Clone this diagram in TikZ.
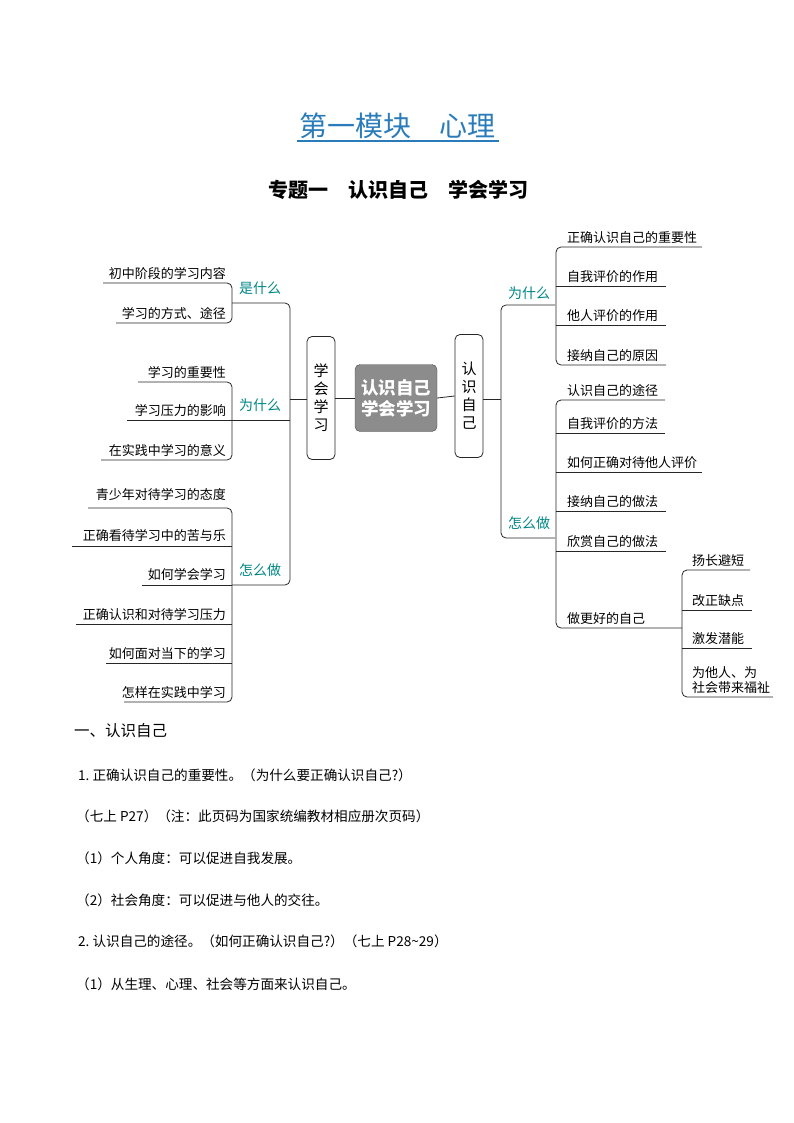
\documentclass[tikz,border=0pt]{standalone}
\usepackage{fontspec}
\setmainfont{Noto Sans CJK SC}
\begin{document}
\begin{tikzpicture}[x=1pt,y=-1pt,
  ln/.style={draw=black!85,line width=0.8pt,rounded corners=5pt},
  lf/.style={font=\fontsize{13}{15}\selectfont,inner sep=1pt},
  lfl/.style={lf,anchor=south east},
  lfr/.style={lf,anchor=south west},
  cat/.style={font=\fontsize{14}{16}\selectfont,text=teal!70!cyan!80!black,inner sep=1pt},
  vbox/.style={draw=black!85,line width=0.8pt,rounded corners=5pt,minimum width=28pt,font=\fontsize{15}{18}\selectfont,align=center},
  body/.style={anchor=west,font=\fontsize{13.6}{16}\selectfont,inner sep=0pt}]
\useasboundingbox (0,0) rectangle (794,1123);
% titles
\node (t1) at (397,126) {\fontsize{28}{32}\selectfont\color{cyan!65!blue!85!black}第一模块\quad 心理};
\draw[cyan!65!blue!85!black,line width=1.3pt] (297,141) -- (499,141);
\node (t2) at (398,190) {\fontsize{20}{23}\selectfont\bfseries 专题一\quad 认识自己\quad 学会学习};
% center boxes
\node[draw=black!70,fill=black!45,rounded corners=5pt,minimum width=82pt,minimum height=67pt,align=center,text=white,font=\fontsize{17.5}{21}\selectfont\bfseries] (c) at (396,398) {认识自己\\学会学习};
\node[vbox,minimum height=123pt] (xx) at (321,398) {学\\会\\学\\习};
\node[vbox,minimum height=123pt] (rs) at (469,396) {认\\识\\自\\己};
\draw[ln] (xx.east) -- (c.west);
\draw[ln] (c.east) -- (rs.west);
% ===== right side
\coordinate (rm) at (501,399);
\draw[ln] (rs.east |- rm) -- (rm);
\draw[ln] (555,305) -- (501,305) -- (501,538) -- (555,538);
\node[cat] (rw) at (529,293) {为什么};
\node[cat] (rz) at (529,523) {怎么做};
% right 为什么 leaves
\draw[ln] (702,247) -- (556,247) -- (556,365) -- (666,365);
\draw[ln] (556,286) -- (666,286);
\draw[ln] (556,325) -- (666,325);
\node[lfr] (r1) at (566,245) {正确认识自己的重要性};
\node[lfr] (r2) at (566,284) {自我评价的作用};
\node[lfr] (r3) at (566,323) {他人评价的作用};
\node[lfr] (r4) at (566,363) {接纳自己的原因};
% right 怎么做 leaves
\draw[ln] (665,400) -- (556,400) -- (556,628) -- (682,628);
\draw[ln] (556,433) -- (665,433);
\draw[ln] (556,472) -- (702,472);
\draw[ln] (556,511) -- (666,511);
\draw[ln] (556,551) -- (666,551);
\node[lfr] (r5) at (566,398) {认识自己的途径};
\node[lfr] (r6) at (566,431) {自我评价的方法};
\node[lfr] (r7) at (566,470) {如何正确对待他人评价};
\node[lfr] (r8) at (566,509) {接纳自己的做法};
\node[lfr] (r9) at (566,549) {欣赏自己的做法};
\node[lfr] (r10) at (566,626) {做更好的自己};
% sub group
\draw[ln] (750,570) -- (682,570) -- (682,697) -- (773,697);
\draw[ln] (682,610) -- (752,610);
\draw[ln] (682,648) -- (752,648);
\node[lfr] (s1) at (691,568) {扬长避短};
\node[lfr] (s2) at (691,608) {改正缺点};
\node[lfr] (s3) at (691,646) {激发潜能};
\node[lfr,align=left] (s4) at (691,695) {为他人、为\\社会带来福祉};
% ===== left side
\coordinate (lm) at (290,399);
\draw[ln] (xx.west |- lm) -- (lm);
\draw[ln] (232,303) -- (290,303) -- (290,585) -- (232,585);
\draw[ln] (232,420) -- (290,420);
\node[cat] (lw1) at (260,288) {是什么};
\node[cat] (lw2) at (260,405) {为什么};
\node[cat] (lw3) at (260,570) {怎么做};
% 是什么
\draw[ln] (103,283) -- (232,283) -- (232,323) -- (116,323);
\node[lfl] (l1) at (227,281) {初中阶段的学习内容};
\node[lfl] (l2) at (227,321) {学习的方式、途径};
% 为什么
\draw[ln] (138,382) -- (232,382) -- (232,460) -- (101,460);
\draw[ln] (127,420) -- (232,420);
\node[lfl] (l3) at (227,380) {学习的重要性};
\node[lfl] (l4) at (227,418) {学习压力的影响};
\node[lfl] (l5) at (227,458) {在实践中学习的意义};
% 怎么做
\draw[ln] (88,508) -- (232,508) -- (232,702) -- (124,702);
\draw[ln] (72,546) -- (232,546);
\draw[ln] (142,585) -- (232,585);
\draw[ln] (76,624) -- (232,624);
\draw[ln] (106,663) -- (232,663);
\node[lfl] (l6) at (227,502) {青少年对待学习的态度};
\node[lfl] (l7) at (227,543) {正确看待学习中的苦与乐};
\node[lfl] (l8) at (227,582) {如何学会学习};
\node[lfl] (l9) at (227,622) {正确认识和对待学习压力};
\node[lfl] (l10) at (227,661) {如何面对当下的学习};
\node[lfl] (l11) at (227,700) {怎样在实践中学习};
% body text
\node[body,font=\fontsize{15.5}{18}\selectfont] (b0) at (74,731) {一、认识自己};
\node[body] (b1) at (78,775) {1.\ 正确认识自己的重要性。（为什么要正确认识自己?）};
\node[body] (b2) at (76,816) {（七上 P27）（注：此页码为国家统编教材相应册次页码）};
\node[body] (b3) at (76,858) {（1）个人角度：可以促进自我发展。};
\node[body] (b4) at (76,900) {（2）社会角度：可以促进与他人的交往。};
\node[body] (b5) at (78,941) {2.\ 认识自己的途径。（如何正确认识自己?）（七上 P28\textasciitilde 29）};
\node[body] (b6) at (76,984) {（1）从生理、心理、社会等方面来认识自己。};
\end{tikzpicture}
\end{document}
